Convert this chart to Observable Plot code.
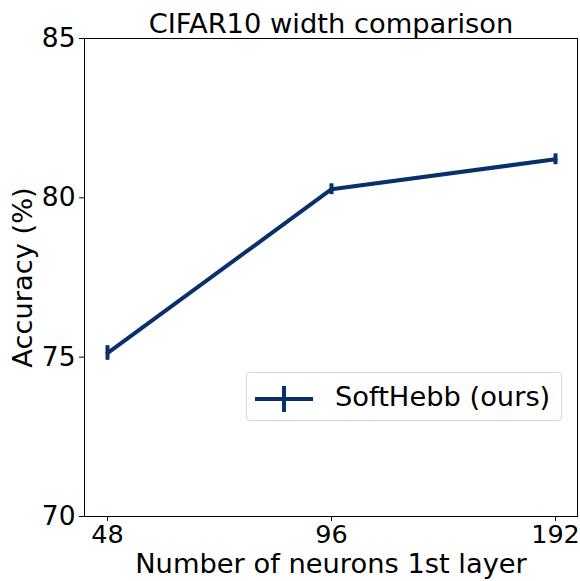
<!DOCTYPE html>
<html>
<head>
<meta charset="utf-8">
<script src="https://cdn.jsdelivr.net/npm/d3@7"></script>
<script src="https://cdn.jsdelivr.net/npm/@observablehq/plot@0.6"></script>
<style>
  html, body { margin: 0; padding: 0; background: white; }
  #wrap { position: relative; width: 580px; height: 581px; font-family: "DejaVu Sans", sans-serif; }
  #legend {
    position: absolute; left: 246px; top: 372px; width: 316px; height: 49px;
    border: 1px solid #d6d6d6; border-radius: 4px; background: rgba(255,255,255,0.8);
    box-sizing: border-box; display: flex; align-items: center;
  }
  #legend svg { margin-left: 8px; flex: none; }
  #legend span { margin-left: 22px; font-size: 27.3px; color: #000; line-height: 1; }
</style>
</head>
<body>
<div id="wrap"></div>
<script>
const title = "CIFAR10 width comparison";
const xLabel = "Number of neurons 1st layer";
const yLabel = "Accuracy (%)";
const seriesName = "SoftHebb (ours)";
const sizes = ["48", "96", "192"];
const accuracy = [75.13, 80.27, 81.21];
const errors = [0.23, 0.17, 0.17];
const yTicks = [70, 75, 80, 85];
const color = "#08306b";

const data = sizes.map((s, i) => ({size: s, acc: accuracy[i], err: errors[i]}));

const chart = Plot.plot({
  width: 580,
  height: 581,
  marginLeft: 84,
  marginRight: 3,
  marginTop: 38,
  marginBottom: 65,
  style: {fontFamily: "DejaVu Sans, sans-serif", fontSize: "26px", background: "white", color: "black", overflow: "visible"},
  x: {type: "point", domain: sizes, padding: 0, inset: 22},
  y: {domain: [70, 85]},
  marks: [
    Plot.frame({stroke: "black", strokeWidth: 1}),
    Plot.axisX({ticks: sizes, tickSize: 5, tickPadding: 3, label: null, fontSize: 25.5, stroke: "black"}),
    Plot.axisY({ticks: yTicks, tickSize: 5, tickPadding: 4, label: null, fontSize: 26.5, stroke: "black"}),
    Plot.line(data, {x: "size", y: "acc", stroke: color, strokeWidth: 4}),
    Plot.ruleX(data, {x: "size", y1: d => d.acc - d.err, y2: d => d.acc + d.err, stroke: color, strokeWidth: 4, strokeLinecap: "butt"}),
    Plot.text([title], {frameAnchor: "top", dy: -14, lineAnchor: "middle", textAnchor: "middle", text: d => d, fontSize: 27.3, fill: "black"}),
    Plot.text([xLabel], {frameAnchor: "bottom", dy: 48, lineAnchor: "middle", textAnchor: "middle", text: d => d, fontSize: 27.3, fill: "black"}),
    Plot.text([yLabel], {frameAnchor: "left", dx: -61, rotate: -90, lineAnchor: "middle", textAnchor: "middle", text: d => d, fontSize: 27.3, fill: "black"})
  ]
});

const wrap = document.getElementById("wrap");
wrap.appendChild(chart);

const legend = document.createElement("div");
legend.id = "legend";
legend.innerHTML = `<svg width="58" height="40" viewBox="0 0 58 40">
  <line x1="0" y1="22" x2="58" y2="22" stroke="${color}" stroke-width="4"/>
  <line x1="29" y1="9" x2="29" y2="35" stroke="${color}" stroke-width="4"/>
</svg><span>${seriesName}</span>`;
wrap.appendChild(legend);
</script>
</body>
</html>
